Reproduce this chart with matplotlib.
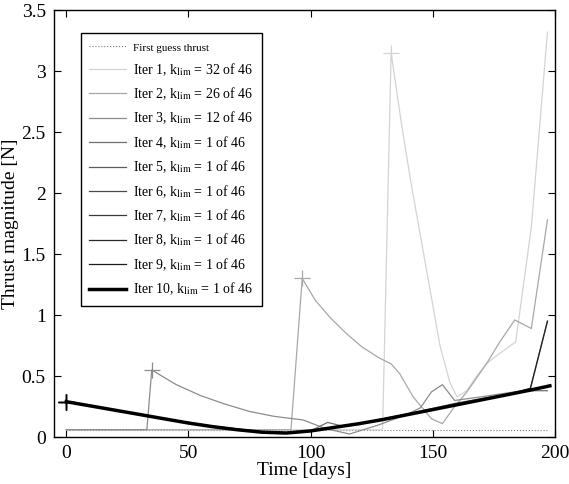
import matplotlib
matplotlib.use("Agg")
import matplotlib.pyplot as plt

plt.rcParams['font.family'] = ['Liberation Serif', 'DejaVu Serif']
plt.rcParams['mathtext.fontset'] = 'stix'

# first guess (constant)
t_guess = [0, 197]
f_guess = [0.06, 0.06]

# iteration 1, k_lim = 32
t_it1 = [0, 129.5, 133, 137, 141, 145, 149, 153, 157, 160, 164, 168, 172, 177, 184, 190.4, 197]
f_it1 = [0.06, 0.06, 3.15, 2.6, 2.1, 1.65, 1.2, 0.75, 0.45, 0.33, 0.38, 0.5, 0.6, 0.68, 0.78, 1.72, 3.32]

# iteration 2, k_lim = 26
t_it2 = [0, 92, 96.6, 102, 108, 114.6, 121, 128, 133, 136.5, 142, 149.5, 154, 159, 164, 172, 177.5, 183.6, 190.4, 197]
f_it2 = [0.06, 0.06, 1.30, 1.12, 0.98, 0.85, 0.74, 0.65, 0.60, 0.52, 0.33, 0.15, 0.11, 0.25, 0.37, 0.60, 0.78, 0.96, 0.89, 1.78]

# iteration 3, k_lim = 12
t_it3 = [0, 33, 35, 45, 55, 65, 75, 85, 97, 106, 116, 128, 140, 145, 149.5, 154, 159, 170, 180, 190, 197]
f_it3 = [0.06, 0.06, 0.55, 0.43, 0.34, 0.27, 0.21, 0.17, 0.14, 0.07, 0.025, 0.1, 0.19, 0.24, 0.37, 0.43, 0.30, 0.33, 0.36, 0.39, 0.95]

# iterations 4-9, k_lim = 1
t_it4 = [0, 20, 40, 60, 80, 92, 100, 107, 113, 125, 140, 160, 180, 190, 197]
f_it4 = [0.29, 0.22, 0.15, 0.09, 0.045, 0.035, 0.05, 0.12, 0.09, 0.13, 0.19, 0.28, 0.35, 0.38, 0.38]
t_it5 = [0, 20, 40, 60, 80, 90, 100, 110, 120, 140, 160, 180, 197]
f_it5 = [0.29, 0.22, 0.15, 0.088, 0.042, 0.034, 0.052, 0.085, 0.112, 0.19, 0.27, 0.35, 0.41]
t_it6 = [0, 20, 40, 60, 80, 90, 100, 110, 120, 140, 160, 180, 197]
f_it6 = [0.29, 0.22, 0.15, 0.087, 0.041, 0.033, 0.051, 0.082, 0.111, 0.186, 0.266, 0.346, 0.415]
t_it7 = [0, 20, 40, 60, 80, 90, 100, 110, 120, 140, 160, 180, 197]
f_it7 = [0.29, 0.22, 0.15, 0.086, 0.04, 0.033, 0.05, 0.081, 0.11, 0.185, 0.265, 0.345, 0.418]
t_it8 = [0, 20, 40, 60, 80, 90, 100, 110, 120, 140, 160, 180, 197]
f_it8 = [0.29, 0.22, 0.15, 0.085, 0.04, 0.033, 0.05, 0.08, 0.11, 0.185, 0.265, 0.345, 0.42]
t_it9 = [0, 20, 40, 60, 80, 90, 100, 110, 120, 140, 160, 180, 190, 197]
f_it9 = [0.29, 0.22, 0.15, 0.085, 0.04, 0.033, 0.05, 0.08, 0.11, 0.185, 0.265, 0.345, 0.40, 0.95]

# iteration 10 (final)
t_it10 = [0, 10, 20, 30, 40, 50, 60, 70, 80, 90, 100, 110, 120, 130, 140, 150, 160, 170, 180, 190, 198]
f_it10 = [0.29, 0.255, 0.22, 0.185, 0.15, 0.115, 0.085, 0.06, 0.04, 0.033, 0.05, 0.08, 0.11, 0.145, 0.185, 0.225, 0.265, 0.305, 0.345, 0.385, 0.42]

k_lims = [32, 26, 12, 1, 1, 1, 1, 1, 1, 1]
series = [(t_it1, f_it1), (t_it2, f_it2), (t_it3, f_it3), (t_it4, f_it4), (t_it5, f_it5),
          (t_it6, f_it6), (t_it7, f_it7), (t_it8, f_it8), (t_it9, f_it9), (t_it10, f_it10)]
marker_t = [133, 96.6, 35, 0, 0, 0, 0, 0, 0, 0]
marker_f = [3.15, 1.30, 0.55, 0.29, 0.29, 0.29, 0.29, 0.29, 0.29, 0.29]
colors = ['#d4d4d4', '#a8a8a8', '#8c8c8c', '#707070', '#5c5c5c', '#4a4a4a', '#3a3a3a', '#2a2a2a', '#1c1c1c', '#000000']

fig = plt.figure(figsize=(5.69, 4.84), dpi=100)
ax = fig.add_axes([0.095, 0.097, 0.88, 0.882])

ax.plot(t_guess, f_guess, ':', color='#777777', lw=0.8, label='First guess thrust')
for i, (t, f) in enumerate(series):
    lw = 2.5 if i == 9 else 0.9
    ax.plot(t, f, '-', color=colors[i], lw=lw,
            label=r'Iter %d, k$_{\rm lim}$ = %d of 46' % (i + 1, k_lims[i]))
    ax.plot(marker_t[i], marker_f[i], '+', color=colors[i], ms=12, mew=0.9)

ax.set_xlim(-5, 200)
ax.set_ylim(0, 3.5)
ax.set_xticks([0, 50, 100, 150, 200])
ax.set_yticks([0, 0.5, 1, 1.5, 2, 2.5, 3, 3.5])
ax.set_yticklabels(['0', '0.5', '1', '1.5', '2', '2.5', '3', '3.5'])
ax.tick_params(direction='in', top=True, right=True, labelsize=14, length=5, pad=6)
for s in ax.spines.values():
    s.set_linewidth(1.0)
ax.set_xlabel('Time [days]', fontsize=14, labelpad=0)
ax.set_ylabel('Thrust magnitude [N]', fontsize=14, labelpad=2)

leg = ax.legend(loc='upper left', bbox_to_anchor=(0.053, 0.946), borderaxespad=0,
                fontsize=10, handlelength=2.7, handletextpad=0.5, labelspacing=0.56,
                borderpad=0.6, fancybox=False, framealpha=1, edgecolor='black')
leg.get_frame().set_linewidth(1.0)
leg.get_texts()[0].set_fontsize(8)

fig.savefig('out.png', dpi=100)
